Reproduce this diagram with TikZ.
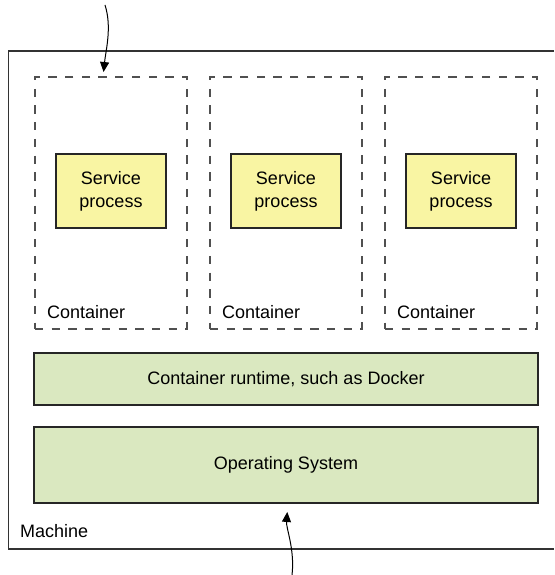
\documentclass[tikz,border=0pt]{standalone}
\usepackage{fontspec}
\setmainfont{Liberation Sans}
\usepackage{tikz}
\usetikzlibrary{arrows.meta}
\usetikzlibrary{positioning}
\definecolor{procfill}{RGB}{249,245,163}
\definecolor{layerfill}{RGB}{218,232,192}
\definecolor{dashgray}{RGB}{80,80,80}
\newcommand{\diagfont}{\fontsize{18}{23}\selectfont}
\tikzset{
  contbox/.style={draw=dashgray, line width=1.4pt, dash pattern=on 8.3pt off 8.4pt, minimum width=152pt, minimum height=252pt, inner sep=0pt, outer sep=0pt},
  procbox/.style={draw=black!85, line width=1.4pt, fill=procfill, align=center, minimum width=110pt, minimum height=74pt, inner sep=0pt, outer sep=0pt, font=\diagfont},
  layerbox/.style={draw=black!85, line width=1.4pt, fill=layerfill, minimum width=504pt, minimum height=#1, inner sep=0pt, outer sep=0pt, font=\diagfont},
  layerbox/.default=52pt,
  boxtag/.style={font=\diagfont, inner sep=0pt, anchor=base west},
  seta/.style={-{Triangle[length=10pt,width=9pt]}, line width=1pt},
}

\begin{document}
\begin{tikzpicture}[x=1pt, y=-1pt, node distance=23pt]
  \useasboundingbox (0,0) rectangle (554,575);
  % machine (cut off on the right)
  \draw[draw=black!80, line width=1.4pt] (554,51) -| (8.5,549) -- (554,549);
  \node[boxtag] (mtag) at (20,537) {Machine};
  \node[contbox] (c1) at (111,203) {};
  \node[contbox, right=of c1] (c2) {};
  \node[contbox, right=of c2] (c3) {};
  \foreach \c in {c1,c2,c3} {
    \node[procbox] (\c-sp) at ([yshift=12pt]\c.center) {Service\\process};
    \node[boxtag] (\c-tag) at ([xshift=12pt, yshift=11pt]\c.south west) {Container};
  }
  \node[layerbox, below=24pt of c2] (rt) {Container runtime, such as Docker};
  \node[layerbox=76pt, below=22pt of rt] (os) {Operating System};
  \coordinate (topsrc) at (105,5);
  \coordinate (botsrc) at (292,575);
  \draw[seta, shorten >=5pt] (topsrc) .. controls +(7,22) and +(3,-28) .. ([xshift=-8pt]c1.north);
  \draw[seta, shorten >=9pt] (botsrc) .. controls +(3,-25) and +(-2,25) .. ([xshift=2pt]os.south);
\end{tikzpicture}
\end{document}
